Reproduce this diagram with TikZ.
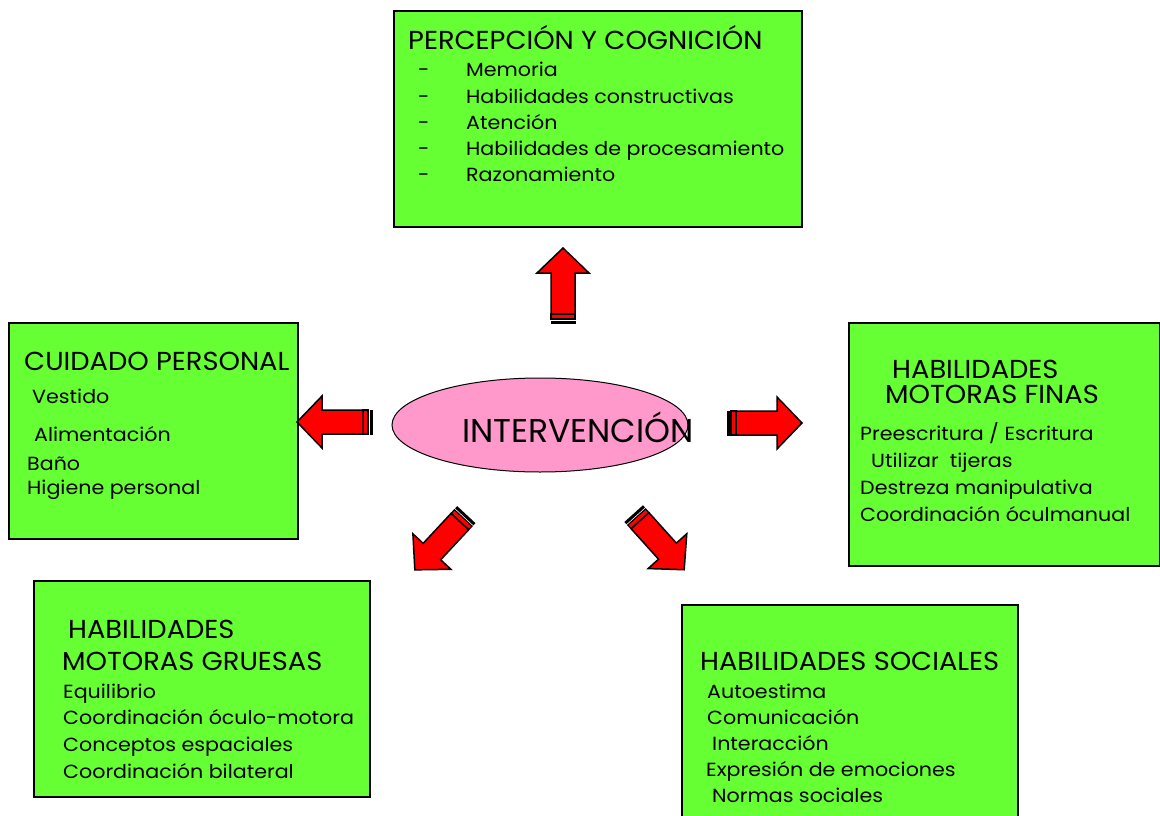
\documentclass[tikz,border=0pt]{standalone}
\usepackage{fontspec}
\usepackage{tikz}
\usetikzlibrary{shapes.geometric}
\newfontfamily\gothic{Poppins}
\newfontfamily\gothictit[FakeStretch=1.05]{Poppins}
\newfontfamily\gothicitem[FakeStretch=1.085]{Poppins}
\definecolor{verdecaja}{HTML}{66FF33}
\definecolor{rosaelipse}{HTML}{FF99CC}
\newcommand{\titulofont}{\gothictit\fontsize{26}{30}\selectfont}
\newcommand{\itemfont}{\gothicitem\fontsize{19}{22}\selectfont}

\begin{document}
\begin{tikzpicture}[x=1pt,y=-1pt,
  caja/.style={draw=black,line width=2pt,fill=verdecaja,anchor=north west,inner sep=0pt},
  titulo/.style={anchor=base west,inner sep=0pt,font=\titulofont},
  item/.style={anchor=base west,inner sep=0pt,font=\itemfont},
  flecharoja/.pic={
    \filldraw[fill=black,draw=black,line width=1pt] (0,-12) rectangle (2,12); % tail bar
    \filldraw[fill=red,draw=black,line width=1.2pt] (4,-12) rectangle (9,12); % band
    \filldraw[fill=red,draw=black,line width=1.5pt,line join=miter]
      (9,-12) -- (50,-12) -- (50,-26) -- (75,0) -- (50,26) -- (50,12) -- (9,12) -- cycle;
  }]
\useasboundingbox (0,0) rectangle (1160,816);
\clip (0,0) rectangle (1160,816);

% boxes
\node[caja,minimum width=408,minimum height=216] (percepcion) at (393,10) {};
\node[caja,minimum width=289,minimum height=216] (cuidado) at (8,322) {};
\node[caja,minimum width=311,minimum height=243] (finas) at (848,322) {};
\node[caja,minimum width=336,minimum height=216] (gruesas) at (33,580) {};
\node[caja,minimum width=336,minimum height=220] (sociales) at (681,604) {};

% centre
\node[ellipse,draw=black,line width=1pt,fill=rosaelipse,minimum width=296,minimum height=94] (intervencion) at (540,425) {};
\node[anchor=base west,inner sep=0pt,font=\gothic\fontsize{33}{37}\selectfont] (intervtxt) at (462,442) {INTERVENCIÓN};

% percepcion y cognicion
\node[titulo] (pc0) at (408,50) {PERCEPCIÓN Y COGNICIÓN};
\foreach \t [count=\i] in {Memoria,Habilidades constructivas,Atención,Habilidades de procesamiento,Razonamiento}{
  \node[item] (pcdash\i) at (418,51+26*\i) {-};
  \node[item] (pc\i) at (466,51+26*\i) {\t};
}

% cuidado personal
\node[titulo] (cp0) at (24,370) {CUIDADO PERSONAL};
\node[item] (cp1) at (32,403) {Vestido};
\node[item] (cp2) at (34,441) {Alimentación};
\node[item] (cp3) at (27,470) {Baño};
\node[item] (cp4) at (27,494) {Higiene personal};

% motoras finas
\node[titulo] (mf0) at (892,378) {HABILIDADES};
\node[titulo] (mf1) at (885,403) {MOTORAS FINAS};
\node[item] (mf2) at (860,440) {Preescritura / Escritura};
\node[item] (mf3) at (871,467) {Utilizar\ \ tijeras};
\node[item] (mf4) at (860,494) {Destreza manipulativa};
\node[item] (mf5) at (860,521) {Coordinación óculmanual};

% motoras gruesas
\node[titulo] (mg0) at (68,638) {HABILIDADES};
\node[titulo] (mg1) at (62,670) {MOTORAS GRUESAS};
\node[item] (mg2) at (63,698) {Equilibrio};
\node[item] (mg3) at (63,724) {Coordinación óculo-motora};
\node[item] (mg4) at (63,751) {Conceptos espaciales};
\node[item] (mg5) at (63,778) {Coordinación bilateral};

% sociales
\node[titulo] (hs0) at (700,670) {HABILIDADES SOCIALES};
\node[item] (hs1) at (707,698) {Autoestima};
\node[item] (hs2) at (707,724) {Comunicación};
\node[item] (hs3) at (712,750) {Interacción};
\node[item] (hs4) at (706,776) {Expresión de emociones};
\node[item] (hs5) at (712,802) {Normas sociales};

% arrows
\pic[rotate=90] at (563,323) {flecharoja};
\pic[rotate=180] at (372,422) {flecharoja};
\pic[rotate=0] at (727,423) {flecharoja};
\pic[rotate=227] at (466,515) {flecharoja};
\pic[rotate=-48] at (634,514) {flecharoja};
\end{tikzpicture}
\end{document}
